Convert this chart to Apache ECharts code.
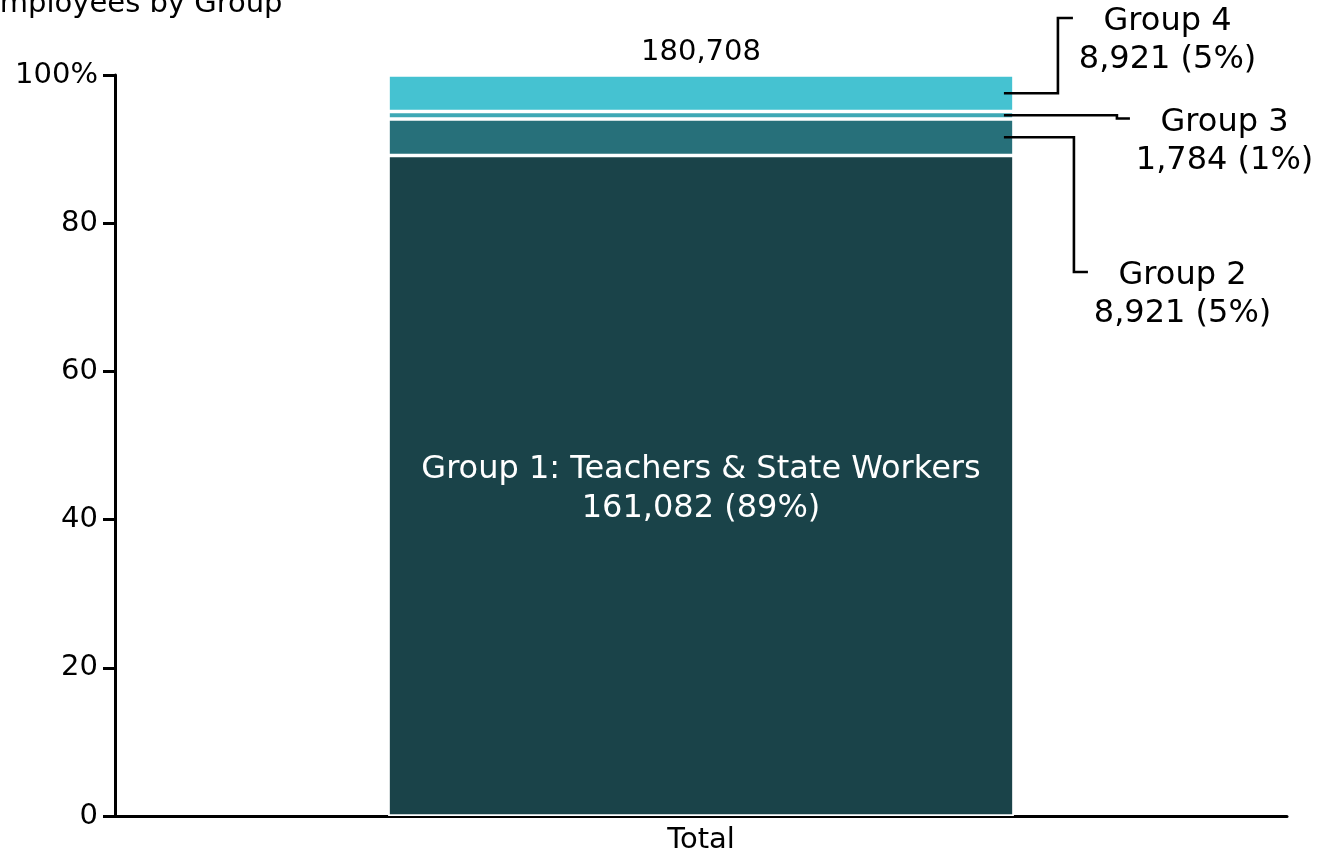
<!DOCTYPE html>
<html>
<head>
<meta charset="utf-8">
<script src="https://cdn.jsdelivr.net/npm/echarts@6/dist/echarts.min.js"></script>
<style>
html,body{margin:0;padding:0;background:#fff;}
#chart{width:1321px;height:855px;}
</style>
</head>
<body>
<div id="chart"></div>
<script>
// ---- data ----
const categories = ['Total'];
const groupNames = ['Group 1: Teachers & State Workers', 'Group 2', 'Group 3', 'Group 4'];
const groupCounts = [161082, 8921, 1784, 8921];
const groupPercents = [89, 5, 1, 5];
const totalCount = 180708;
const yTickValues = [0, 20, 40, 60, 80, 100];
const titleText = 'Employees by Group';

// ---- styles / layout ----
const FONT = 'DejaVu Sans';
const FS = 29;        // axis / total / title
const FS_IN = 32;     // label inside bar
const FS_CALL = 32;   // callout labels
const colors = ['#1a4349', '#27707a', '#3ea8b5', '#45c2d1'];
const BAR_W = 0.534;
// callout layout (pixel offsets from bar right edge), for groups 2..4
const callouts = {
  1: { elbowDx: 60, endDx: 74, lineY: 272, textDx: 168.6 },
  2: { elbowDx: 103, endDx: 116, lineY: 118.5, textDx: 210.6 },
  3: { elbowDx: 44, endDx: 59, lineY: 18, textDx: 153.6 }
};

const fmt = n => n.toLocaleString('en-US');

const chart = echarts.init(document.getElementById('chart'));

const barSeries = groupNames.map((name, i) => {
  const s = {
    name: name,
    type: 'bar',
    stack: 'total',
    barWidth: (BAR_W * 100) + '%',
    data: [groupCounts[i] / totalCount * 100],
    itemStyle: { color: colors[i], borderColor: '#fff', borderWidth: 1.75 },
    emphasis: { disabled: true },
    silent: true
  };
  if (i === 0) {
    s.label = {
      show: true, position: 'inside', offset: [0, 3], color: '#fff', fontFamily: FONT, fontSize: FS_IN,
      lineHeight: 39, align: 'center',
      formatter: () => name + '\n' + fmt(groupCounts[0]) + ' (' + groupPercents[0] + '%)'
    };
  }
  if (i === groupNames.length - 1) {
    s.label = {
      show: true, position: 'top', distance: 8, color: '#000', fontFamily: FONT, fontSize: FS,
      formatter: () => fmt(totalCount)
    };
  }
  return s;
});

// midpoints of segments for callouts
const calloutData = [];
let cum = 0;
groupCounts.forEach((c, i) => {
  const mid = (cum + c / 2) / totalCount * 100;
  cum += c;
  if (i > 0) calloutData.push([0, mid, i]);
});

const calloutSeries = {
  type: 'custom',
  silent: true,
  data: calloutData,
  z: 10,
  renderItem: function (params, api) {
    const gi = api.value(2);
    const p = api.coord([api.value(0), api.value(1)]);
    const half = api.size([1, 0])[0] * BAR_W / 2;
    const xr = p[0] + half;
    const L = callouts[gi];
    const y = p[1];
    const pts = [[xr - 10, y], [xr + L.elbowDx, y], [xr + L.elbowDx, L.lineY], [xr + L.endDx, L.lineY]];
    const tx = xr + L.textDx;
    const font = FS_CALL + 'px "' + FONT + '"';
    return {
      type: 'group',
      children: [
        { type: 'polyline', shape: { points: pts }, style: { stroke: '#000', lineWidth: 2.6, fill: null } },
        { type: 'text', style: { text: groupNames[gi], x: tx, y: L.lineY + 4, align: 'center', verticalAlign: 'middle', font: font, fill: '#000' } },
        { type: 'text', style: { text: fmt(groupCounts[gi]) + ' (' + groupPercents[gi] + '%)', x: tx, y: L.lineY + 42, align: 'center', verticalAlign: 'middle', font: font, fill: '#000' } }
      ]
    };
  }
};

const option = {
  animation: false,
  backgroundColor: '#fff',
  textStyle: { fontFamily: FONT },
  grid: { left: 115, right: 34, top: 75, bottom: 38, containLabel: false },
  graphic: [{
    type: 'text', x: -18.5, y: 4,
    style: { text: titleText, align: 'left', verticalAlign: 'middle', font: FS + 'px "' + FONT + '"', fill: '#000' }
  }],
  xAxis: {
    type: 'category',
    data: categories,
    axisLine: { lineStyle: { color: '#000', width: 3 } },
    axisTick: { show: false },
    axisLabel: { color: '#000', fontFamily: FONT, fontSize: FS, margin: 10 }
  },
  yAxis: {
    type: 'value',
    min: 0, max: 100, interval: 20,
    axisLine: { show: true, lineStyle: { color: '#000', width: 3 } },
    axisTick: { show: true, length: 12, lineStyle: { color: '#000', width: 3 } },
    splitLine: { show: false },
    axisLabel: {
      color: '#000', fontFamily: FONT, fontSize: FS, margin: 17,
      formatter: v => (yTickValues.indexOf(v) >= 0 ? (v === 100 ? '100%' : String(v)) : '')
    }
  },
  series: barSeries.concat([calloutSeries])
};

chart.setOption(option);
</script>
</body>
</html>
